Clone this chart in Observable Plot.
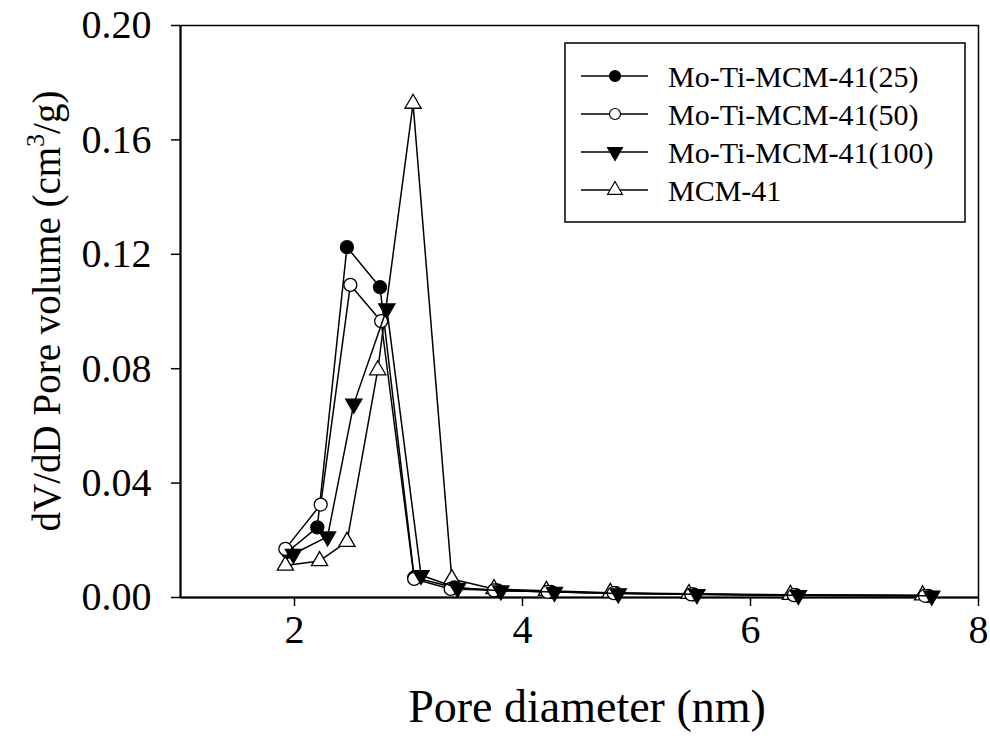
<!DOCTYPE html>
<html><head><meta charset="utf-8">
<script src="https://cdn.jsdelivr.net/npm/d3@7"></script>
<script src="https://cdn.jsdelivr.net/npm/@observablehq/plot@0.6"></script>
<style>body{margin:0;background:#fff}#chart{position:relative;width:990px;height:742px}</style>
</head><body><div id="chart"></div>
<script>
// ---- data ----
const seriesNames = ["Mo-Ti-MCM-41(25)", "Mo-Ti-MCM-41(50)", "Mo-Ti-MCM-41(100)", "MCM-41"];
const x25  = [1.94, 2.20, 2.46, 2.75, 3.05, 3.40, 3.78, 4.25, 4.82, 5.50, 6.40, 7.56];
const y25  = [0.016, 0.0245, 0.1225, 0.1085, 0.0070, 0.0035, 0.0025, 0.0020, 0.0015, 0.0011, 0.0008, 0.0006];
const x50  = [1.92, 2.23, 2.49, 2.76, 3.05, 3.37, 3.75, 4.22, 4.80, 5.48, 6.38, 7.53];
const y50  = [0.0170, 0.0325, 0.1093, 0.0966, 0.0065, 0.0030, 0.0025, 0.0020, 0.0015, 0.0011, 0.0008, 0.0006];
const x100 = [1.99, 2.29, 2.52, 2.81, 3.11, 3.43, 3.81, 4.28, 4.84, 5.53, 6.42, 7.59];
const y100 = [0.0152, 0.0213, 0.0677, 0.1010, 0.0078, 0.0033, 0.0024, 0.0019, 0.0014, 0.0011, 0.0008, 0.0006];
const xMCM = [1.92, 2.22, 2.46, 2.73, 3.04, 3.38, 3.75, 4.21, 4.77, 5.46, 6.35, 7.51];
const yMCM = [0.0112, 0.0128, 0.0195, 0.0795, 0.1727, 0.0065, 0.0030, 0.0024, 0.0017, 0.0013, 0.0010, 0.0008];
const xTicks = [2, 4, 6, 8];
const yTicks = [0, 0.04, 0.08, 0.12, 0.16, 0.20];
const xLabel = "Pore diameter (nm)";

// ---- build ----
const xs = [x25, x50, x100, xMCM], ys = [y25, y50, y100, yMCM];
const style = {
  "Mo-Ti-MCM-41(25)":  {symbol: "circle",   fill: "black", rotate: 0,   r: 6.5},
  "Mo-Ti-MCM-41(50)":  {symbol: "circle",   fill: "white", rotate: 0,   r: 6.5},
  "Mo-Ti-MCM-41(100)": {symbol: "triangle", fill: "black", rotate: 180, r: 6},
  "MCM-41":            {symbol: "triangle", fill: "white", rotate: 0,   r: 6}
};
const tables = seriesNames.map((s, i) => xs[i].map((x, j) => ({series: s, x, y: ys[i][j]})));
const drawOrder = [3, 0, 1, 2];

const FONT = "'Liberation Serif', 'Times New Roman', serif";
const marks = [];
for (const i of drawOrder) {
  const st = style[seriesNames[i]];
  marks.push(Plot.line(tables[i], {x: "x", y: "y", stroke: "black", strokeWidth: 1.5}));
  marks.push(Plot.dot(tables[i], {x: "x", y: "y", symbol: () => st.symbol, r: st.r, fill: st.fill,
    stroke: "black", strokeWidth: 1.3, rotate: st.rotate}));
}

const chart = Plot.plot({
  width: 990, height: 742,
  marginLeft: 180, marginRight: 12, marginTop: 25, marginBottom: 145,
  style: {fontFamily: FONT, background: "white", color: "black"},
  x: {domain: [1, 8], range: [180, 978]},
  y: {domain: [0, 0.2]},
  symbol: {type: "identity"},
  marks: [
    Plot.frame({stroke: "black", strokeWidth: 1.5}),
    Plot.axisY({ticks: yTicks, tickFormat: d => d.toFixed(2), tickSize: 9, tickPadding: 20,
      fontSize: 40, label: null, strokeWidth: 1.5}),
    Plot.axisX({ticks: xTicks, tickFormat: d => String(d), tickSize: 9, tickPadding: 8, fontSize: 40,
      label: null, strokeWidth: 1.5}),
    Plot.ruleY([0], {stroke: "black", strokeWidth: 2}),
    Plot.ruleX([1], {stroke: "black", strokeWidth: 2}),
    ...marks
  ]
});
document.getElementById("chart").appendChild(chart);

const svg = d3.select(chart);
// axis titles
svg.append("text").attr("x", 587).attr("y", 722).attr("text-anchor", "middle")
  .attr("font-family", FONT).attr("font-size", 46).attr("fill", "black").text(xLabel);
const yl = svg.append("text").attr("transform", "translate(60,311) rotate(-90)")
  .attr("text-anchor", "middle").attr("font-family", FONT).attr("font-size", 39).attr("fill", "black");
yl.append("tspan").text("dV/dD Pore volume (cm");
yl.append("tspan").attr("font-size", 26).attr("dy", -16).text("3");
yl.append("tspan").attr("dy", 16).text("/g)");

// legend
const lg = svg.append("g");
lg.append("rect").attr("x", 565).attr("y", 43).attr("width", 400).attr("height", 179)
  .attr("fill", "white").attr("stroke", "black").attr("stroke-width", 1.5);
seriesNames.forEach((name, i) => {
  const st = style[name];
  const yy = 76 + i * 38;
  lg.append("line").attr("x1", 581).attr("x2", 648).attr("y1", yy).attr("y2", yy)
    .attr("stroke", "black").attr("stroke-width", 1.5);
  const sym = st.symbol === "circle" ? d3.symbolCircle : d3.symbolTriangle;
  lg.append("path").attr("d", d3.symbol(sym, Math.PI * 5.5 * 5.5)())
    .attr("transform", `translate(615,${yy}) rotate(${st.rotate})`)
    .attr("fill", st.fill).attr("stroke", "black").attr("stroke-width", 1.2);
  lg.append("text").attr("x", 668).attr("y", yy).attr("dy", "0.35em").attr("text-anchor", "start")
    .attr("font-family", FONT).attr("font-size", 30).attr("fill", "black").text(name);
});
</script>
</body></html>
